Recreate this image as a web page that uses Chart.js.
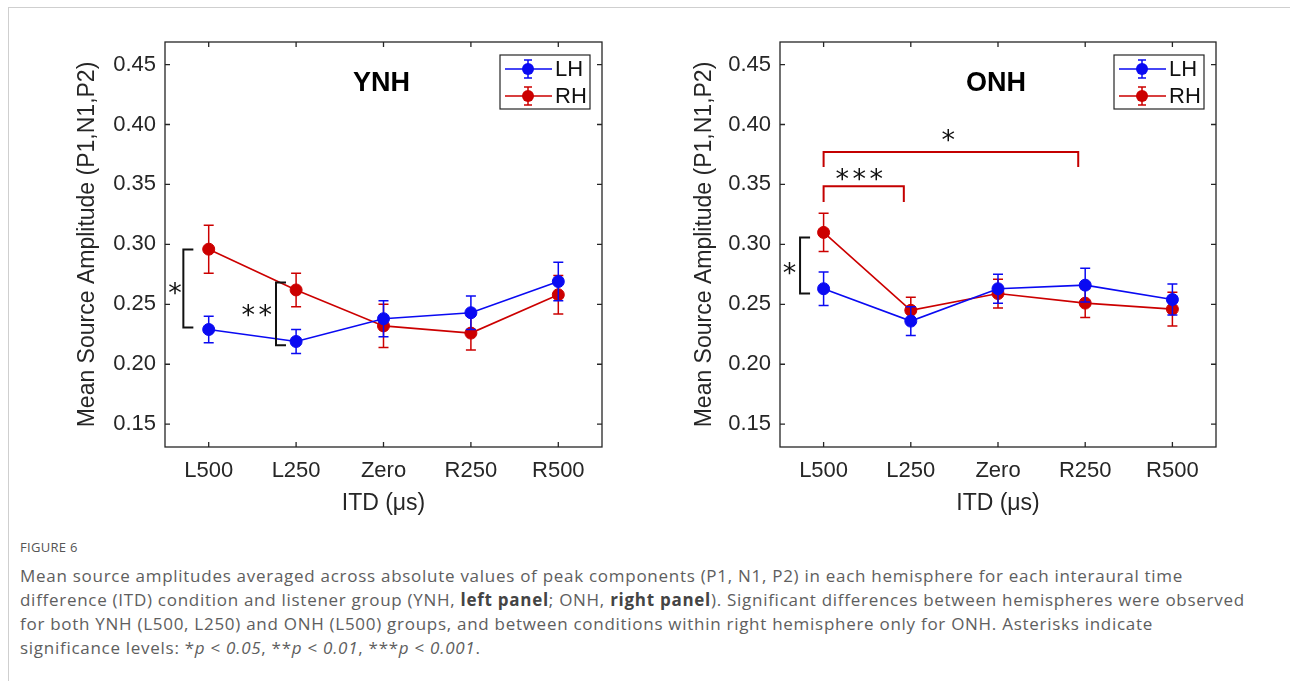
<!DOCTYPE html>
<html><head><meta charset="utf-8">
<script src="https://cdn.jsdelivr.net/npm/chart.js@4/dist/chart.umd.min.js"></script>
<style>
html,body{margin:0;padding:0;background:#fff;}
body{width:1290px;height:681px;position:relative;overflow:hidden;font-family:"Open Sans",sans-serif;}
#frame{position:absolute;left:8px;top:7px;width:1300px;height:700px;border-top:1px solid #cfcfcf;border-left:1px solid #cfcfcf;}
#c1{position:absolute;left:0;top:0;}
#c2{position:absolute;left:640px;top:0;}
#figlabel{position:absolute;left:20px;top:538px;font-size:13px;color:#555;letter-spacing:0.3px;}
#caption{position:absolute;left:20px;top:564px;width:1265px;font-size:17px;line-height:24px;color:#5e5e5e;white-space:nowrap;letter-spacing:0.72px;}
#caption b{color:#444;}
</style></head>
<body>
<div id="frame"></div>
<canvas id="c1" width="640" height="530"></canvas>
<canvas id="c2" width="650" height="530"></canvas>
<div id="figlabel">FIGURE 6</div>
<div id="caption">Mean source amplitudes averaged across absolute values of peak components (P1, N1, P2) in each hemisphere for each interaural time<br>difference (ITD) condition and listener group (YNH, <b>left panel</b>; ONH, <b>right panel</b>). Significant differences between hemispheres were observed<br>for both YNH (L500, L250) and ONH (L500) groups, and between conditions within right hemisphere only for ONH. Asterisks indicate<br>significance levels: *<i>p</i> &lt; <i>0.05</i>, **<i>p</i> &lt; <i>0.01</i>, ***<i>p</i> &lt; <i>0.001</i>.</div>
<script>
// ---- data ----
const categories = ['L500', 'L250', 'Zero', 'R250', 'R500'];
const yTicks = [0.15, 0.20, 0.25, 0.30, 0.35, 0.40, 0.45];
const seriesNames = ['LH', 'RH'];
const panelTitles = ['YNH', 'ONH'];

const ynhLH = [0.229, 0.219, 0.238, 0.243, 0.269];
const ynhLHErr = [0.011, 0.010, 0.015, 0.014, 0.016];
const ynhRH = [0.296, 0.262, 0.232, 0.226, 0.258];
const ynhRHErr = [0.020, 0.014, 0.018, 0.014, 0.016];

const onhLH = [0.263, 0.236, 0.263, 0.266, 0.254];
const onhLHErr = [0.014, 0.012, 0.012, 0.014, 0.013];
const onhRH = [0.310, 0.245, 0.259, 0.251, 0.246];
const onhRHErr = [0.016, 0.011, 0.012, 0.012, 0.014];

// significance annotations (in data units: x = category index, y = amplitude)
const ynhBrackets = [
  {kind: 'v', x: -0.29, y1: 0.2957, y2: 0.2307, stars: 1, lx: -0.385, ly: 0.2645, color: '#111'},
  {kind: 'v', x: 0.77, y1: 0.2682, y2: 0.2159, stars: 2, lx: 0.55, ly: 0.2459, color: '#111'}
];
const onhBrackets = [
  {kind: 'v', x: -0.27, y1: 0.3057, y2: 0.259, stars: 1, lx: -0.39, ly: 0.2812, color: '#111'},
  {kind: 'h', x1: 0, x2: 0.92, y: 0.3485, yEnd: 0.3354, stars: 3, lx: 0.41, ly: 0.3593, color: '#c40000'},
  {kind: 'h', x1: 0, x2: 2.92, y: 0.3771, yEnd: 0.3646, stars: 1, lx: 1.43, ly: 0.3925, color: '#c40000'}
];

// ---- style ----
const FONT = '"Liberation Sans", Arial, Helvetica, sans-serif';
const STARFONT = '"DejaVu Sans", sans-serif';
const AX = '#262626';
const BLUE = '#0a0af2';
const RED = '#cc0000';
const Y_MIN = 0.131, Y_MAX = 0.4688;

function drawStars(ctx, n, x, y) {
  const size = 27;
  ctx.font = size + 'px ' + STARFONT;
  ctx.textAlign = 'center';
  ctx.textBaseline = 'alphabetic';
  const step = 17;
  const x0 = x - (n - 1) * step / 2;
  for (let k = 0; k < n; k++) {
    ctx.fillText('*', x0 + k * step, y + size * 0.56);
  }
}

const panelPlugin = {
  id: 'panel',
  beforeDatasetDraw(chart, args) {
    const ds = chart.data.datasets[args.index];
    const xs = chart.scales.x, ys = chart.scales.y;
    const ctx = chart.ctx;
    ctx.save();
    ctx.strokeStyle = ds.borderColor;
    ctx.lineWidth = 1.5;
    ds.data.forEach((v, i) => {
      const e = ds.errors[i];
      const px = xs.getPixelForValue(i);
      const a = ys.getPixelForValue(v + e), b = ys.getPixelForValue(v - e);
      ctx.beginPath();
      ctx.moveTo(px, a); ctx.lineTo(px, b);
      ctx.moveTo(px - 5, a); ctx.lineTo(px + 5, a);
      ctx.moveTo(px - 5, b); ctx.lineTo(px + 5, b);
      ctx.stroke();
    });
    ctx.restore();
  },
  afterDraw(chart, args, opts) {
    const ctx = chart.ctx;
    const ca = chart.chartArea;
    const xs = chart.scales.x, ys = chart.scales.y;
    ctx.save();
    // box
    ctx.strokeStyle = AX;
    ctx.lineWidth = 1.3;
    ctx.strokeRect(ca.left, ca.top, ca.right - ca.left, ca.bottom - ca.top);
    // inner ticks
    ctx.beginPath();
    categories.forEach((c, i) => {
      const px = xs.getPixelForValue(i);
      ctx.moveTo(px, ca.bottom); ctx.lineTo(px, ca.bottom - 5);
      ctx.moveTo(px, ca.top); ctx.lineTo(px, ca.top + 5);
    });
    yTicks.forEach(v => {
      const py = ys.getPixelForValue(v);
      ctx.moveTo(ca.left, py); ctx.lineTo(ca.left + 5, py);
      ctx.moveTo(ca.right, py); ctx.lineTo(ca.right - 5, py);
    });
    ctx.stroke();
    // panel title
    ctx.fillStyle = '#000';
    ctx.font = 'bold 27px ' + FONT;
    ctx.textAlign = 'center';
    ctx.textBaseline = 'middle';
    ctx.fillText(opts.title, (ca.left + ca.right) / 2 - 2, ca.top + 42);
    // brackets
    opts.brackets.forEach(b => {
      ctx.strokeStyle = b.color;
      ctx.lineWidth = 2;
      ctx.beginPath();
      if (b.kind === 'v') {
        const px = xs.getPixelForValue(b.x);
        const a = ys.getPixelForValue(b.y1), c = ys.getPixelForValue(b.y2);
        ctx.moveTo(px + 10, a); ctx.lineTo(px, a); ctx.lineTo(px, c); ctx.lineTo(px + 10, c);
      } else {
        const p1 = xs.getPixelForValue(b.x1), p2 = xs.getPixelForValue(b.x2);
        const py = ys.getPixelForValue(b.y), pe = ys.getPixelForValue(b.yEnd);
        ctx.moveTo(p1, pe); ctx.lineTo(p1, py); ctx.lineTo(p2, py); ctx.lineTo(p2, pe);
      }
      ctx.stroke();
      ctx.fillStyle = '#111';
      drawStars(ctx, b.stars, xs.getPixelForValue(b.lx), ys.getPixelForValue(b.ly));
    });
    // legend
    const bw = 90, bh = 54;
    const bx = ca.right - 12 - bw, by = ca.top + 13;
    ctx.fillStyle = '#fff';
    ctx.fillRect(bx, by, bw, bh);
    ctx.strokeStyle = AX;
    ctx.lineWidth = 1.2;
    ctx.strokeRect(bx, by, bw, bh);
    chart.data.datasets.forEach((ds, i) => {
      const ry = by + 14 + i * 27;
      ctx.strokeStyle = ds.borderColor;
      ctx.lineWidth = 1.5;
      ctx.beginPath();
      ctx.moveTo(bx + 5, ry); ctx.lineTo(bx + 52, ry);
      ctx.moveTo(bx + 28, ry - 9); ctx.lineTo(bx + 28, ry + 9);
      ctx.moveTo(bx + 24, ry - 9); ctx.lineTo(bx + 32, ry - 9);
      ctx.moveTo(bx + 24, ry + 9); ctx.lineTo(bx + 32, ry + 9);
      ctx.stroke();
      ctx.fillStyle = ds.borderColor;
      ctx.beginPath();
      ctx.arc(bx + 28, ry, 6, 0, Math.PI * 2);
      ctx.fill();
      ctx.fillStyle = '#111';
      ctx.font = '22px ' + FONT;
      ctx.textAlign = 'left';
      ctx.textBaseline = 'middle';
      ctx.fillText(ds.label, bx + 55, ry + 1);
    });
    ctx.restore();
  }
};

function makePanel(id, geom, title, lh, lhErr, rh, rhErr, brackets) {
  const mk = (label, data, errors, color) => ({
    label, data, errors,
    borderColor: color, backgroundColor: color,
    pointBackgroundColor: color, pointBorderColor: color,
    borderWidth: 1.6, pointRadius: 6, pointHoverRadius: 6, pointBorderWidth: 1,
    tension: 0, fill: false
  });
  return new Chart(document.getElementById(id), {
    type: 'line',
    data: {
      labels: categories,
      datasets: [mk(seriesNames[0], lh, lhErr, BLUE), mk(seriesNames[1], rh, rhErr, RED)]
    },
    options: {
      responsive: false, animation: false, events: [],
      layout: {padding: {left: 0, top: geom.top, right: geom.padRight, bottom: 0}},
      plugins: {
        legend: {display: false}, tooltip: {enabled: false},
        panel: {title, brackets}
      },
      scales: {
        x: {
          type: 'category', offset: true,
          grid: {display: false, drawTicks: false}, border: {display: false},
          ticks: {font: {family: FONT, size: 22}, color: AX, padding: 11, maxRotation: 0, autoSkip: false},
          title: {display: true, text: 'ITD (\u03bcs)', font: {family: FONT, size: 23}, color: AX, padding: {top: 0, bottom: 13}},
          afterFit(s) { s.height = geom.xh; }
        },
        y: {
          type: 'linear', min: Y_MIN, max: Y_MAX,
          grid: {display: false, drawTicks: false}, border: {display: false},
          afterBuildTicks(s) { s.ticks = yTicks.map(v => ({value: v})); },
          ticks: {font: {family: FONT, size: 22}, color: AX, padding: 9, callback: v => Number(v).toFixed(2)},
          title: {display: true, text: 'Mean Source Amplitude (P1,N1,P2)', font: {family: FONT, size: 23}, color: AX, padding: {top: geom.ytp, bottom: 0}},
          afterFit(s) { s.width = geom.yw; }
        }
      }
    },
    plugins: [panelPlugin]
  });
}

makePanel('c1', {top: 42, padRight: 38, xh: 83, yw: 165, ytp: 74}, panelTitles[0], ynhLH, ynhLHErr, ynhRH, ynhRHErr, ynhBrackets);
makePanel('c2', {top: 42, padRight: 74, xh: 83, yw: 140, ytp: 51}, panelTitles[1], onhLH, onhLHErr, onhRH, onhRHErr, onhBrackets);
</script>
</body></html>
